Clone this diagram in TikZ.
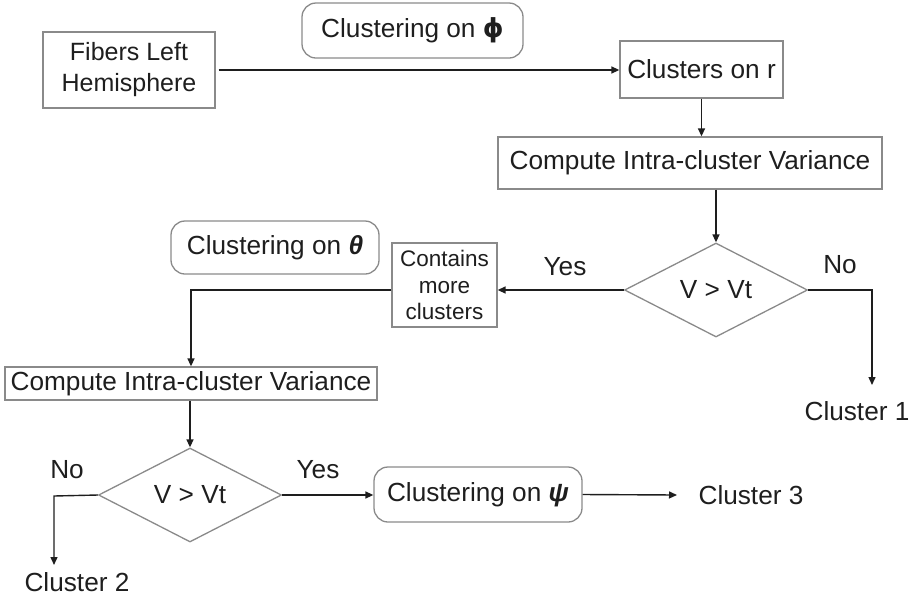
\documentclass[tikz,border=0pt]{standalone}
\usepackage{fontspec}
\setmainfont{Liberation Sans}
\newfontfamily\greekbold{DejaVu Sans}[BoldFont={DejaVu Sans Bold}]
\usetikzlibrary{shapes.geometric,arrows.meta}
\definecolor{boxgray}{HTML}{8A8A8A}
\definecolor{ink}{HTML}{1E1E1E}
\tikzset{
  base/.style={font=\fontsize{26.2}{30}\selectfont, text=ink, inner sep=0pt, align=center},
  procbox/.style={base, draw=boxgray, line width=1.3pt, rectangle},
  roundbox/.style={procbox, rounded corners=14pt},
  decision/.style={base, draw=boxgray, line width=1.3pt, diamond,
                   minimum width=183pt, minimum height=94pt},
  lbl/.style={base},
  conn/.style={draw=ink, line width=1.4pt},
  arr/.style={conn, -{Triangle[length=8pt,width=7pt]}},
}
\begin{document}
\begin{tikzpicture}[x=1pt,y=-1pt]
  \useasboundingbox (0,0) rectangle (913,598);

  % process boxes
  \node[procbox, minimum width=172pt, minimum height=76pt,
        font=\fontsize{25}{31}\selectfont] (fib) at (129,70) {Fibers Left\\Hemisphere};
  \node[roundbox, minimum width=221pt, minimum height=55pt] (phi) at (412.5,30.5)
        {Clustering on {\greekbold\bfseries ϕ}};
  \node[procbox, minimum width=163pt, minimum height=57pt] (clr) at (701.5,69.5) {Clusters on r};
  \node[procbox, minimum width=384pt, minimum height=52pt] (cmp1) at (690,163)
        {Compute Intra-cluster Variance};
  \node[decision] (d1) at (716,290) {V > Vt};
  \node[procbox, minimum width=105pt, minimum height=84pt,
        font=\fontsize{22.5}{26.5}\selectfont] (more) at (444.5,285) {Contains\\more\\clusters};
  \node[roundbox, minimum width=208pt, minimum height=53pt] (theta) at (275,247.5)
        {Clustering on \textbf{\textit{θ}}};
  \node[procbox, minimum width=372pt, minimum height=33pt] (cmp2) at (191,383.5)
        {Compute Intra-cluster Variance};
  \node[decision] (d2) at (190,495) {V > Vt};
  \node[roundbox, minimum width=208pt, minimum height=55pt] (psi) at (478,494.5)
        {Clustering on \textbf{\textit{ψ}}};

  % outcomes
  \node[lbl] (c1) at (857,411) {Cluster 1};
  \node[lbl] (c2) at (77,582) {Cluster 2};
  \node[lbl] (c3) at (751,495) {Cluster 3};

  % branch labels
  \node[lbl] (no1) at (840,265) {No};
  \node[lbl] (yes1) at (565,267) {Yes};
  \node[lbl] (no2) at (67,470) {No};
  \node[lbl] (yes2) at (318,470) {Yes};

  % bends and free ends
  \coordinate (k1) at (872,290);
  \coordinate (e1) at (872,385);
  \coordinate (k2) at (54,496);
  \coordinate (e2) at (54,565);
  \coordinate (e3) at (677,495);

  % connectors
  \draw[arr, shorten <=3pt] (fib.east) -- (fib.east -| clr.west);
  \draw[arr] (clr.south) -- (clr.south |- cmp1.north);
  \draw[arr] (cmp1.south -| d1.north) -- (d1.north);
  \draw[arr] (d1.east) -- (k1) -- (e1);
  \draw[arr] (d1.west) -- (d1.west -| more.east);
  \draw[arr] (more.west |- d1.west) -| (cmp2.north);
  \draw[arr] (cmp2.south -| d2.north) -- (d2.north);
  \draw[arr] (d2.west) -- (k2) -- (e2);
  \draw[arr] (d2.east) -- (d2.east -| psi.west);
  \draw[arr] (psi.east) -- (e3);
\end{tikzpicture}
\end{document}
